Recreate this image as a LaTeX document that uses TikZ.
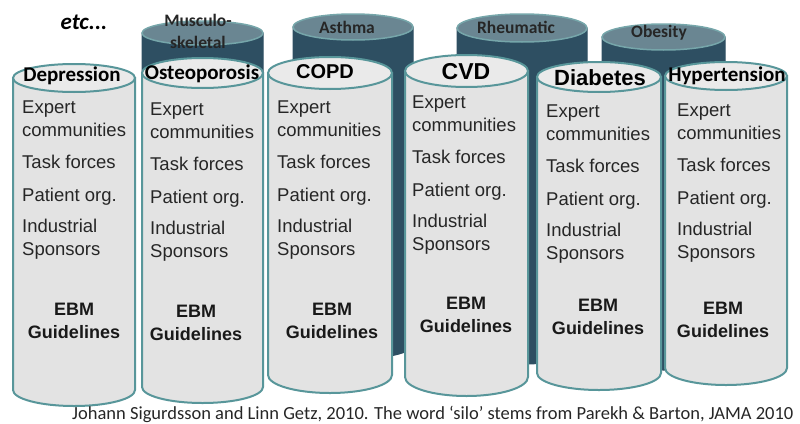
\documentclass[tikz,border=0pt]{standalone}
\usepackage{fontspec}
\setmainfont{Liberation Sans}
\newfontfamily\carlito{Carlito}
\usepackage{xcolor}
\usepackage{tikz}
\usetikzlibrary{positioning}

\definecolor{silofill}{RGB}{227,227,227}
\definecolor{silotop}{RGB}{234,234,234}
\definecolor{siloedge}{RGB}{88,150,154}
\definecolor{backbody}{RGB}{46,79,98}
\definecolor{backtop}{RGB}{106,134,146}
\definecolor{backedge}{RGB}{118,166,170}

% silo: #1 body style, #2 lid style, #3 left x, #4 right x,
% #5 lid y, #6 lid radius, #7 bottom y, #8 bottom radius
\newcommand{\drawsilo}[8]{%
  \pgfmathsetmacro\silorx{(#4-#3)/2}%
  \pgfmathsetmacro\silocx{(#3+#4)/2}%
  \draw[#1] (#3,#5) -- (#3,#7)
    arc[start angle=180, end angle=360, x radius=\silorx pt, y radius=#8pt]
    -- (#4,#5) -- cycle;
  \draw[#2] (\silocx,#5) ellipse[x radius=\silorx pt, y radius=#6pt];
}
\newcommand{\stakeholders}{Expert\\communities\\[9pt]Task forces\\[10pt]Patient org.\\[8pt]Industrial\\Sponsors}

\begin{document}
\begin{tikzpicture}[
    x=1pt, y=-1pt,
    frontbody/.style={fill=silofill, draw=siloedge, line width=2pt},
    fronttop/.style={fill=silotop, draw=siloedge, line width=2pt},
    backbody/.style={fill=backbody, draw=backbody, line width=1pt},
    backtop/.style={fill=backtop, draw=backedge, line width=1.5pt},
    title/.style={inner sep=0pt, font=\carlito\bfseries\fontsize{21}{24}\selectfont},
    bigtitle/.style={inner sep=0pt, font=\bfseries\fontsize{#1}{24}\selectfont},
    backlabel/.style={inner sep=0pt, align=center, text=black!85, font=\carlito\bfseries\fontsize{17.5}{22}\selectfont},
    items/.style={anchor=north west, inner sep=0pt, align=left, text=black!85, font=\fontsize{18.5}{23}\selectfont},
    ebm/.style={inner sep=0pt, align=center, text=black!90, font=\bfseries\fontsize{18}{23}\selectfont}
  ]
  \useasboundingbox (0,0) rectangle (800,423);

  % silos at the back
  \drawsilo{backbody}{backtop}{142}{263}{33}{12}{370}{13}
  \drawsilo{backbody}{backtop}{293}{413}{27}{13}{345}{14}
  \drawsilo{backbody}{backtop}{457}{587}{28}{14}{350}{14}
  \drawsilo{backbody}{backtop}{602}{725}{37}{13}{357}{13}

  \node (etc) [inner sep=0pt, font=\carlito\bfseries\itshape\fontsize{23}{26}\selectfont] at (84,22) {etc...};
  \node (musculo) [backlabel] at (198,31) {Musculo-\\skeletal};
  \node (asthma) [backlabel] at (347,27) {Asthma};
  \node (rheum) [backlabel] at (516,27) {Rheumatic};
  \node (obesity) [backlabel] at (659,33) {Obesity};

  % silos in front
  \drawsilo{frontbody}{fronttop}{13}{135}{78}{14}{390}{16}
  \drawsilo{frontbody}{fronttop}{142}{263}{73}{15}{387}{16}
  \drawsilo{frontbody}{fronttop}{268}{392}{73}{16}{375}{18}
  \drawsilo{frontbody}{fronttop}{405}{528}{71}{16}{377}{19}
  \drawsilo{frontbody}{fronttop}{537}{661}{77}{15}{373}{17}
  \drawsilo{frontbody}{fronttop}{665}{787}{76}{14}{368}{17}

  \node (depression) [title] at (72,76) {Depression};
  \node (depitems) [items] at (22,101) {\stakeholders};
  \node (depebm) [ebm] at (74,321) {EBM\\Guidelines};

  \node (osteo) [title] at (202,74) {Osteoporosis};
  \node (ostitems) [items] at (150,103) {\stakeholders};
  \node (ostebm) [ebm] at (196,322.5) {EBM\\Guidelines};

  \node (copd) [bigtitle=20] at (325,72) {COPD};
  \node (copditems) [items] at (277,101) {\stakeholders};
  \node (copdebm) [ebm] at (332,320.5) {EBM\\Guidelines};

  \node (cvd) [bigtitle=23] at (466,72) {CVD};
  \node (cvditems) [items] at (412,96) {\stakeholders};
  \node (cvdebm) [ebm] at (466,315) {EBM\\Guidelines};

  \node (diabetes) [bigtitle=22] at (600,78) {Diabetes};
  \node (diabitems) [items] at (546,105) {\stakeholders};
  \node (diabebm) [ebm] at (598,316.5) {EBM\\Guidelines};

  \node (hyper) [title] at (727,76) {Hypertension};
  \node (hypitems) [items] at (677,104) {\stakeholders};
  \node (hypebm) [ebm] at (723,320) {EBM\\Guidelines};

  \node (credit) [anchor=base west, inner sep=0pt, text=black!85, font=\carlito\fontsize{18.5}{22}\selectfont] at (72,419)
    {Johann Sigurdsson and Linn Getz, 2010. The word ‘silo’ stems from Parekh \& Barton, JAMA 2010};
\end{tikzpicture}
\end{document}
